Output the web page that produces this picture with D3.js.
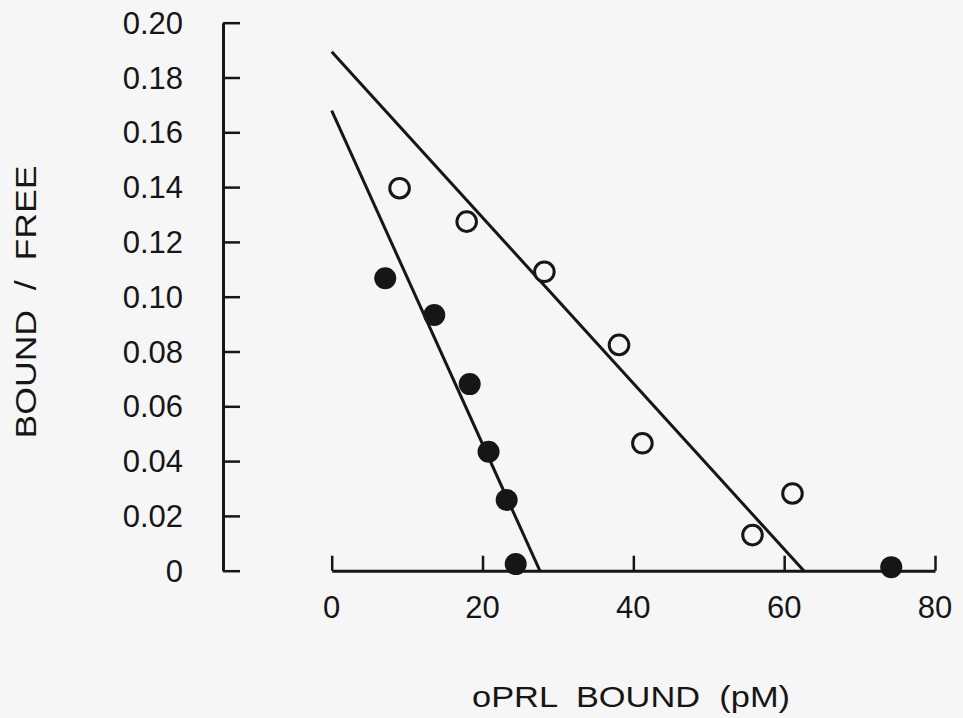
<!DOCTYPE html>
<html>
<head>
<meta charset="utf-8">
<script src="https://cdn.jsdelivr.net/npm/d3@7"></script>
<style>
  html, body { margin: 0; padding: 0; background: #f6f6f6; }
  svg { display: block; }
  text { font-family: "Liberation Sans", Arial, Helvetica, sans-serif; fill: #161616; }
</style>
</head>
<body>
<svg id="chart" width="963" height="718"></svg>
<script>
// ---- data ----
const xTicks = [0, 20, 40, 60, 80];
const yTicks = [0, 0.02, 0.04, 0.06, 0.08, 0.10, 0.12, 0.14, 0.16, 0.18, 0.20];
const yTickLabels = ["0", "0.02", "0.04", "0.06", "0.08", "0.10", "0.12", "0.14", "0.16", "0.18", "0.20"];

// open circles
const openX = [9.0, 17.9, 28.2, 38.1, 41.2, 55.8, 61.1];
const openY = [0.1396, 0.1274, 0.1091, 0.0824, 0.0465, 0.0130, 0.0282];
// filled circles
const filledX = [7.1, 13.6, 18.3, 20.8, 23.2, 24.4, 74.2];
const filledY = [0.1067, 0.0933, 0.0681, 0.0434, 0.0258, 0.0024, 0.0013];

// fitted lines: y-intercept and x-intercept
const lineYIntercepts = [0.1894, 0.1679];
const lineXIntercepts = [62.6, 27.6];

const xTitle = "oPRL  BOUND  (pM)";
const yTitle = "BOUND  /  FREE";

// ---- drawing ----
const svg = d3.select("#chart");
const x = d3.scaleLinear().domain([0, 80]).range([331.7, 935]);
const y = d3.scaleLinear().domain([0, 0.20]).range([570.7, 22.7]);
const ink = "#161616";

// y axis (ticks pointing inward / right)
const yAxis = d3.axisRight(y).tickValues(yTicks).tickSize(17).tickFormat("").tickSizeOuter(0);
const gy = svg.append("g").attr("transform", "translate(223,0)").call(yAxis);
gy.select(".domain").attr("stroke", ink).attr("stroke-width", 3);
gy.selectAll(".tick line").attr("stroke", ink).attr("stroke-width", 2.5);

svg.append("g").selectAll("text").data(yTicks).join("text")
  .attr("x", 183).attr("y", d => y(d) + 11)
  .attr("text-anchor", "end").attr("font-size", 31)
  .text((d, i) => yTickLabels[i]);

// x axis (ticks pointing up)
const xAxis = d3.axisTop(x).tickValues(xTicks).tickSize(15).tickFormat("").tickSizeOuter(0);
const gx = svg.append("g").attr("transform", "translate(0,570.7)").call(xAxis);
gx.select(".domain").attr("stroke", ink).attr("stroke-width", 3);
gx.selectAll(".tick line").attr("stroke", ink).attr("stroke-width", 2.5);

svg.append("g").selectAll("text").data(xTicks).join("text")
  .attr("x", d => x(d)).attr("y", 618)
  .attr("text-anchor", "middle").attr("font-size", 31)
  .text(d => d);

// fitted lines
const lineGen = d3.line().x(d => x(d[0])).y(d => y(d[1]));
lineYIntercepts.forEach((b, i) => {
  svg.append("path")
    .attr("d", lineGen([[0, b], [lineXIntercepts[i], 0]]))
    .attr("fill", "none").attr("stroke", ink).attr("stroke-width", 3);
});

// points
svg.append("g").selectAll("circle").data(openX.map((v, i) => [v, openY[i]])).join("circle")
  .attr("cx", d => x(d[0])).attr("cy", d => y(d[1])).attr("r", 9.8)
  .attr("fill", "#f6f6f6").attr("stroke", ink).attr("stroke-width", 3);

svg.append("g").selectAll("circle").data(filledX.map((v, i) => [v, filledY[i]])).join("circle")
  .attr("cx", d => x(d[0])).attr("cy", d => y(d[1])).attr("r", 11)
  .attr("fill", ink);

// titles
svg.append("text")
  .attr("x", 631).attr("y", 707)
  .attr("text-anchor", "middle").attr("font-size", 30)
  .attr("textLength", 318).attr("lengthAdjust", "spacingAndGlyphs")
  .style("white-space", "pre")
  .text(xTitle);

svg.append("text")
  .attr("transform", "translate(36,302) rotate(-90)")
  .attr("text-anchor", "middle").attr("font-size", 29)
  .attr("textLength", 273).attr("lengthAdjust", "spacingAndGlyphs")
  .style("white-space", "pre")
  .text(yTitle);
</script>
</body>
</html>
